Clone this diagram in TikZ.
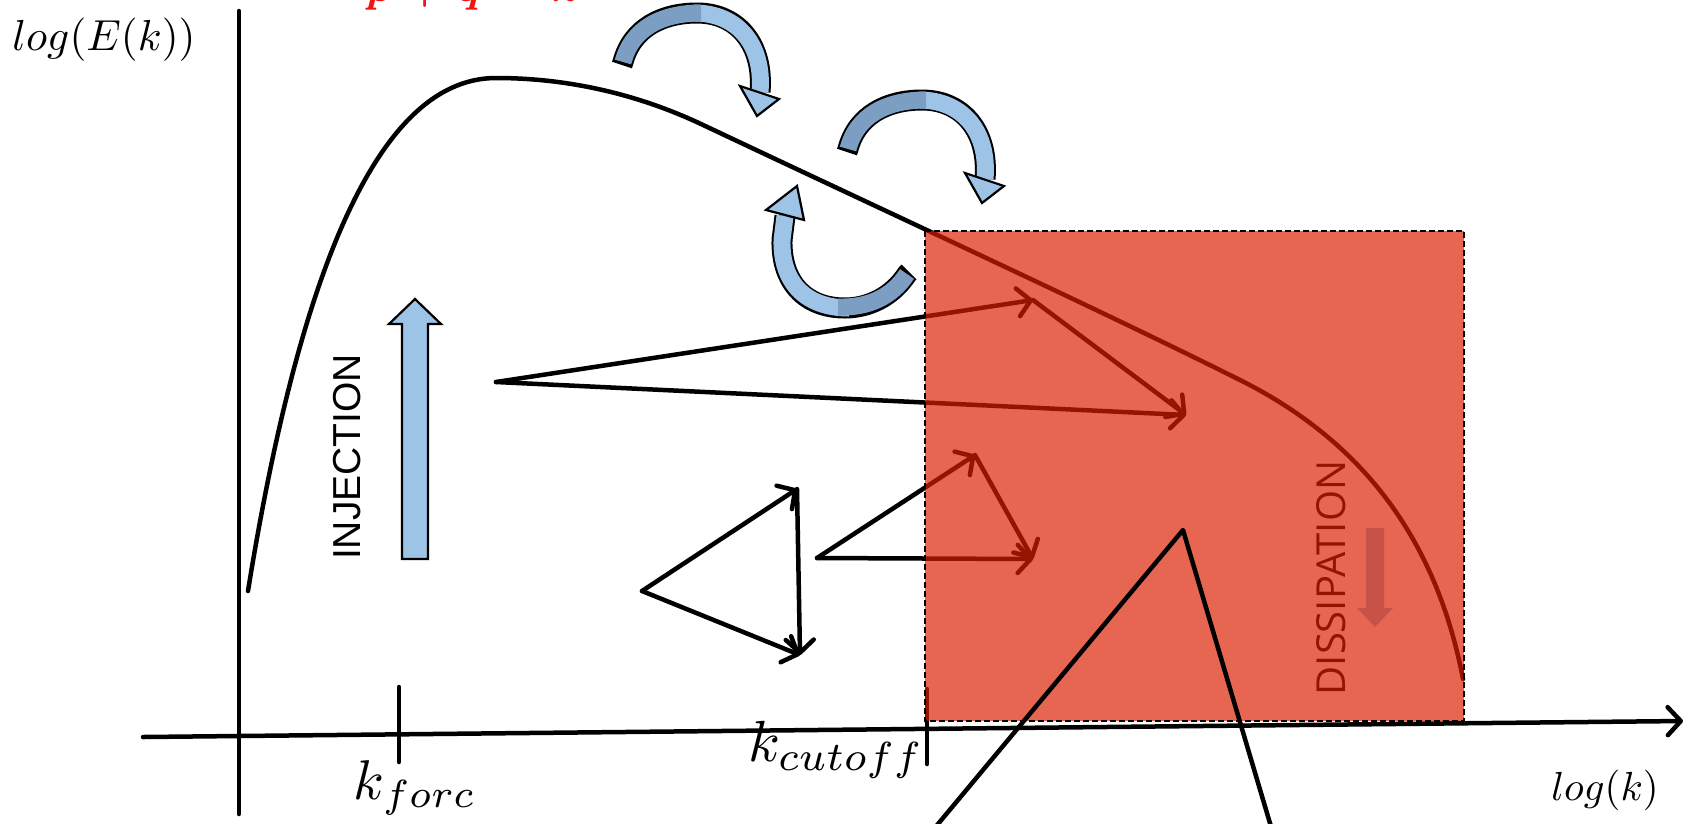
\documentclass[tikz,border=0pt]{standalone}
\usepackage{fontspec}
\usetikzlibrary{arrows.meta}
\newfontfamily\injfont{Liberation Sans}
\newfontfamily\disfont{Open Sans}
\definecolor{lblue}{RGB}{157,195,230}
\definecolor{dblue}{RGB}{124,158,194}
\definecolor{overlayred}{RGB}{220,29,0}
\definecolor{titlered}{RGB}{240,20,20}
\tikzset{
  thickline/.style={line width=4.5pt, line cap=round, line join=round},
  vec/.style={thickline, -{Straight Barb[length=13pt,width=28pt,round]}},
  mathlbl/.style={inner sep=0pt, outer sep=0pt},
  blueout/.style={fill=lblue, draw=black, line width=2.2pt, line join=miter},
  curvarrow/.pic={
    \draw[line width=21pt, line cap=butt, black]
      (622,65) -- (623,62) .. controls (632,28) and (662,13) .. (697,13)
      .. controls (738,13) and (764,45) .. (760,92);
    \draw[line width=17pt, line cap=butt, lblue]
      (694,13) .. controls (738,13) and (764,45) .. (760,92);
    \draw[line width=17pt, line cap=butt, dblue]
      (623,62) .. controls (632,28) and (662,13) .. (701,13);
    \filldraw[blueout] (740,86) -- (779,99) -- (757,116) -- cycle;
  }
}
\begin{document}
\begin{tikzpicture}[x=1pt,y=-1pt]
\useasboundingbox (0,0) rectangle (1691,823);

% axes
\coordinate (yt) at (239,11);
\coordinate (yb) at (239,814);
\coordinate (xl) at (143,737);
\coordinate (xr) at (1683,721);
\draw[thickline] (yt) -- (yb);
\draw[thickline, -{Straight Barb[length=13pt,width=28pt,round]}] (xl) -- (xr);
\coordinate (tf1) at (399,687); \coordinate (tf2) at (399,762);
\coordinate (tc1) at (927,689); \coordinate (tc2) at (927,764);
\draw[thickline] (tf1) -- (tf2);
\draw[thickline] (tc1) -- (tc2);

% spectrum curve
\coordinate (c0) at (248,591);
\coordinate (c1) at (496,78);
\coordinate (c2) at (701,124);
\coordinate (c3) at (1240,380);
\coordinate (c4) at (1463,679);
\draw[thickline] (c0) .. controls (295,300) and (370,78) .. (c1)
  .. controls (580,78) and (650,100) .. (c2)
  .. controls (900,218) and (1100,310) .. (c3)
  .. controls (1380,450) and (1440,560) .. (c4);

% triangles of vectors
\coordinate (A) at (496,382);
\coordinate (B) at (1033,300);
\coordinate (C) at (1186,415);
\draw[vec] (A) -- (B);
\draw[vec] (B) -- (C);
\draw[vec] (A) -- (C);

\coordinate (D) at (642,591);
\coordinate (E) at (797,489);
\coordinate (G) at (800,655);
\draw[vec] (D) -- (E);
\draw[vec] (E) -- (G);
\draw[vec] (D) -- (G);

\coordinate (H) at (817,558);
\coordinate (I) at (975,455);
\coordinate (J) at (1033,559);
\draw[vec] (H) -- (I);
\draw[vec] (I) -- (J);
\draw[vec] (H) -- (J);

% dissipation label and arrow (under the overlay)
\node[rotate=90, font=\disfont\fontsize{40}{44}\selectfont, inner sep=0pt] (diss) at (1331,578) {DISSIPATION};
\fill[lblue] (1366,528) -- (1384,528) -- (1384,608) -- (1393,608) -- (1375,627)
  -- (1357,608) -- (1366,608) -- cycle;

% dissipation range overlay
\fill[overlayred, fill opacity=0.68] (925,231) rectangle (1464,721);
\draw[line width=1.6pt, dash pattern=on 6pt off 3pt] (925,231) rectangle (1464,721);

% large triangle on top
\coordinate (K) at (1183,530);
\coordinate (L) at (933,830);
\coordinate (M) at (1272,830);
\draw[thickline] (L) -- (K) -- (M);

% curved blue arrows
\pic at (0,0) {curvarrow};
\pic at (225,87) {curvarrow};
\draw[line width=21pt, line cap=butt, black]
  (909,272) -- (907,274) .. controls (892,297) and (868,308) .. (845,308)
  .. controls (805,308) and (781,282) .. (782,240) -- (785,216);
\draw[line width=17pt, line cap=butt, lblue]
  (849,308) .. controls (805,308) and (781,282) .. (782,240) -- (785,216);
\draw[line width=17pt, line cap=butt, dblue]
  (907,274) .. controls (892,297) and (868,308) .. (838,307);
\filldraw[blueout] (766,210) -- (797,186) -- (804,220) -- cycle;

% injection arrow
\filldraw[blueout] (402,559) -- (402,324) -- (389,324) -- (415,299) -- (441,324)
  -- (428,324) -- (428,559) -- cycle;
\node[rotate=90, font=\injfont\fontsize{39}{44}\selectfont, inner sep=0pt] (inj) at (347,457) {INJECTION};

% labels
\node[mathlbl, scale=4.34] (ylab) at (104,40) {$log(E(k))$};
\node[mathlbl, scale=4.06] (xlab) at (1605,790) {$log(k)$};
\node[mathlbl, scale=5.6] (kf) at (415,788) {$k_{forc}$};
\node[mathlbl, scale=5.8] (kc) at (836,750) {$k_{cutoff}$};
\node[mathlbl, scale=4.5, anchor=base west, text=titlered, font=\boldmath] (ttl) at (366,1) {$p+q=k$};
\end{tikzpicture}
\end{document}
